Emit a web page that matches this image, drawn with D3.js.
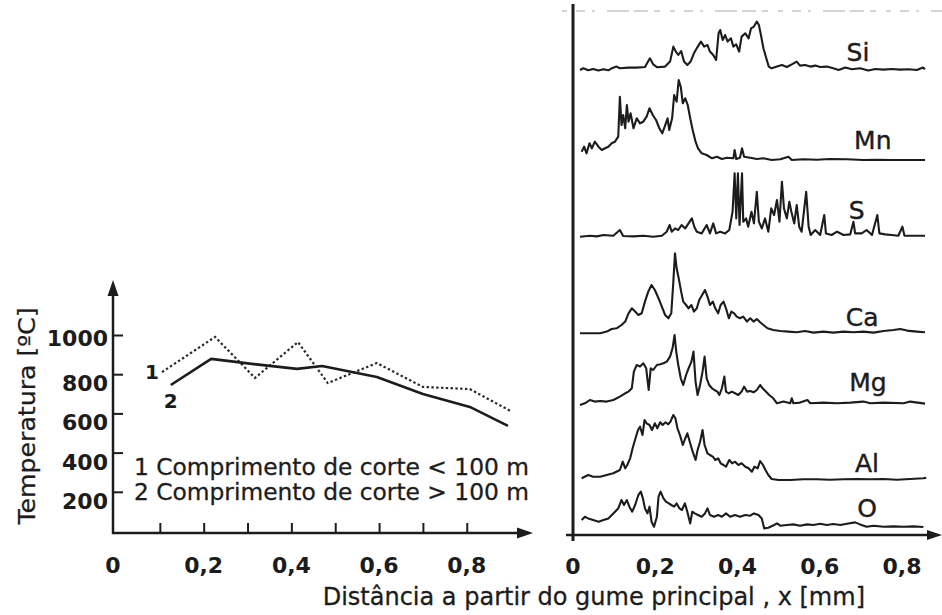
<!DOCTYPE html>
<html><head><meta charset="utf-8">
<script src="https://cdn.jsdelivr.net/npm/d3@7"></script>
<style>
body{margin:0;background:#fff}
svg{display:block}
text{font-family:"DejaVu Sans",sans-serif;fill:#1c1c1c}
</style>
</head><body>
<svg id="c" width="942" height="615"></svg>
<script>
// ---------- Left chart data (temperature vs distance) ----------
const tempX1 = [0.105, 0.226, 0.317, 0.415, 0.483, 0.595, 0.70, 0.807, 0.90];
const temp1  = [811, 990, 781, 964, 755, 857, 735, 724, 612];
const tempX2 = [0.125, 0.217, 0.32, 0.413, 0.47, 0.595, 0.70, 0.807, 0.894];
const temp2  = [745, 878, 850, 827, 842, 786, 699, 633, 536];
const yTicksLeft = [200, 400, 600, 800, 1000];
const xTickMarksLeft = [0.1, 0.2, 0.3, 0.4, 0.5, 0.6, 0.7, 0.8];
const xTickLabels = [0, 0.2, 0.4, 0.6, 0.8];
const legendTexts = ["1 Comprimento de corte < 100 m", "2 Comprimento de corte > 100 m"];

// ---------- Right chart data (element line scans) ----------
const elements = ["Si", "Mn", "S", "Ca", "Mg", "Al", "O"];
const offsets  = [465.7, 375, 298.3, 201.7, 131.7, 55, 9.3];
const traceSi = [[0.017,-0.7],[0.025,1],[0.037,-1],[0.049,0.3],[0.062,-1.3],[0.074,0],[0.086,-1],[0.094,1],[0.106,2.7],[0.114,1],[0.135,1.7],[0.155,1.7],[0.175,2.3],[0.187,11],[0.195,5],[0.205,2],[0.224,2.7],[0.236,7.7],[0.244,22.7],[0.25,17.7],[0.256,14.3],[0.263,18.3],[0.27,7.7],[0.278,4.3],[0.286,7.7],[0.294,16],[0.302,21.7],[0.311,27.7],[0.319,22.7],[0.327,24.3],[0.333,17.7],[0.341,14.3],[0.348,9.3],[0.354,36],[0.358,39.3],[0.364,29.3],[0.37,34.3],[0.376,27.7],[0.384,31],[0.39,22.7],[0.397,25],[0.404,17.7],[0.41,32.7],[0.419,36],[0.427,31],[0.433,41],[0.44,42.7],[0.447,47.7],[0.452,44.3],[0.457,34.3],[0.463,21],[0.47,11],[0.476,2.7],[0.483,1],[0.496,2.7],[0.508,4.3],[0.52,2.3],[0.532,5],[0.544,7.7],[0.552,3.7],[0.564,4.3],[0.577,2.7],[0.589,3.7],[0.601,2.3],[0.617,2.7],[0.633,1],[0.646,-0.7],[0.662,1.7],[0.678,0],[0.698,1],[0.718,-1.3],[0.735,0.3],[0.755,-0.3],[0.775,0.3],[0.796,-0.3],[0.816,0],[0.836,-0.7],[0.851,1.7],[0.856,0]];
const traceMn = [[0.021,8.3],[0.027,13.3],[0.033,6.7],[0.04,16.7],[0.046,11.7],[0.053,18.3],[0.062,13.3],[0.07,10],[0.078,11.7],[0.086,13.3],[0.094,16.7],[0.102,18.3],[0.11,23.3],[0.114,63.3],[0.118,35],[0.122,45],[0.127,31.7],[0.131,55],[0.135,38.3],[0.14,46.7],[0.147,31.7],[0.155,41.7],[0.163,36.7],[0.171,38.3],[0.179,43.3],[0.186,51.7],[0.194,45],[0.202,40],[0.21,31.7],[0.217,26.7],[0.223,33.3],[0.23,41.7],[0.234,30],[0.241,41.7],[0.246,65],[0.252,58.3],[0.257,80],[0.262,73.3],[0.267,56.7],[0.273,61.7],[0.279,55],[0.285,41.7],[0.291,30],[0.298,18.3],[0.304,11.7],[0.313,6.7],[0.325,5],[0.338,1.7],[0.35,3.3],[0.362,1],[0.374,2.3],[0.39,1.7],[0.393,10],[0.397,1],[0.406,2.3],[0.411,11.7],[0.416,3.3],[0.431,2.3],[0.447,1],[0.463,1.7],[0.483,0],[0.504,0.7],[0.524,3.3],[0.532,0],[0.56,0.7],[0.593,0.3],[0.625,1],[0.666,0.7],[0.706,0],[0.739,0.3],[0.771,0],[0.812,0],[0.856,0]];
const traceS = [[0.017,0],[0.041,1],[0.058,0.3],[0.074,1.7],[0.098,1],[0.114,6.7],[0.122,0.7],[0.147,0.3],[0.171,1],[0.195,0],[0.216,1],[0.228,5],[0.235,11.7],[0.24,5],[0.248,8.3],[0.256,6.7],[0.264,11.7],[0.273,8.3],[0.281,13.3],[0.289,18.3],[0.295,10],[0.301,5],[0.313,3.3],[0.325,11.7],[0.333,3.3],[0.341,13.3],[0.348,3.3],[0.358,5],[0.37,3.3],[0.38,6.7],[0.388,25],[0.393,63.3],[0.397,18.3],[0.401,63.3],[0.405,11.7],[0.411,63.3],[0.414,15],[0.421,18.3],[0.426,10],[0.434,25],[0.44,13.3],[0.447,45],[0.452,15],[0.459,8.3],[0.467,18.3],[0.475,5],[0.482,28.3],[0.489,21.7],[0.496,36.7],[0.502,15],[0.508,55],[0.513,28.3],[0.52,18.3],[0.526,35],[0.531,25],[0.538,13.3],[0.544,31.7],[0.55,10],[0.556,5],[0.567,45],[0.573,10],[0.578,1.7],[0.589,6.7],[0.601,1.7],[0.611,21.7],[0.615,3.3],[0.629,1.7],[0.642,5],[0.658,1.7],[0.674,2.3],[0.682,15],[0.686,3.3],[0.702,3.3],[0.714,6.7],[0.727,1.7],[0.74,21.7],[0.745,3.3],[0.759,2.3],[0.775,1.7],[0.791,1],[0.801,10],[0.806,1],[0.828,1],[0.856,1]];
const traceCa = [[0.017,0],[0.041,0],[0.066,0],[0.082,1.7],[0.094,4.3],[0.106,5],[0.118,8.3],[0.127,11.7],[0.135,20],[0.143,25],[0.151,21.7],[0.159,18.3],[0.167,20],[0.175,31.7],[0.183,41.7],[0.191,48.3],[0.199,43.3],[0.208,35],[0.216,26.7],[0.224,18.3],[0.232,15],[0.239,20],[0.244,51.7],[0.248,80],[0.252,65],[0.257,55],[0.263,41.7],[0.268,31.7],[0.275,28.3],[0.281,25],[0.288,28.3],[0.294,21.7],[0.301,25],[0.307,33.3],[0.314,38.3],[0.321,43.3],[0.327,36.7],[0.333,28.3],[0.34,31.7],[0.346,25],[0.353,20],[0.359,28.3],[0.366,31.7],[0.372,25],[0.379,15],[0.385,21.7],[0.392,20],[0.398,16.7],[0.406,15],[0.414,16.7],[0.423,11.7],[0.431,15],[0.439,11.7],[0.447,14.3],[0.455,11],[0.463,8.3],[0.473,5],[0.487,3.3],[0.504,2.3],[0.524,1.7],[0.544,1],[0.564,2.3],[0.585,0.7],[0.609,1.7],[0.633,0.7],[0.658,1.7],[0.682,1],[0.706,1.7],[0.731,0.7],[0.755,2.3],[0.779,3.3],[0.796,4.3],[0.812,2.7],[0.836,1.7],[0.856,1]];
const traceMg = [[0.017,-1.7],[0.029,0],[0.041,3.3],[0.053,1.7],[0.066,2.3],[0.082,1.7],[0.098,3.3],[0.114,6.7],[0.127,10],[0.135,11.7],[0.143,15],[0.148,31.7],[0.155,38.3],[0.163,36.7],[0.171,40],[0.178,35],[0.184,13.3],[0.189,35],[0.195,33.3],[0.204,38.3],[0.212,39],[0.22,40],[0.228,41.7],[0.236,46.7],[0.242,55],[0.247,68.3],[0.251,51.7],[0.256,38.3],[0.262,25],[0.268,18.3],[0.275,28.3],[0.281,35],[0.288,41.7],[0.293,51.7],[0.298,21.7],[0.303,8.3],[0.309,18.3],[0.315,31.7],[0.32,46.7],[0.325,25],[0.331,18.3],[0.338,15],[0.344,13.3],[0.351,11.7],[0.356,8.3],[0.362,15],[0.368,26.7],[0.372,11.7],[0.379,10],[0.386,11.7],[0.394,10],[0.402,8.3],[0.41,11.7],[0.416,16.7],[0.423,11.7],[0.431,12.3],[0.439,11],[0.447,13.3],[0.455,18.3],[0.461,15],[0.469,11.7],[0.477,8.3],[0.487,5],[0.496,0],[0.512,1.7],[0.528,0],[0.532,5],[0.536,0],[0.552,0.7],[0.57,3.3],[0.577,0],[0.609,0.7],[0.642,0],[0.674,0.7],[0.706,1.7],[0.723,0],[0.755,0.7],[0.804,0],[0.82,1.7],[0.856,-0.3]];
const traceAl = [[0.021,1.7],[0.037,5],[0.049,3.3],[0.066,3.3],[0.082,5],[0.098,6.7],[0.114,10],[0.121,18.3],[0.127,11.7],[0.132,15],[0.139,21.7],[0.145,31.7],[0.152,41.7],[0.158,50],[0.163,53.3],[0.169,45],[0.174,60],[0.179,56.7],[0.186,55],[0.192,50],[0.199,56.7],[0.205,51.7],[0.212,57.7],[0.218,55],[0.225,57.7],[0.231,55.7],[0.237,58.3],[0.244,65],[0.249,61.7],[0.254,51.7],[0.26,45],[0.267,35],[0.273,41.7],[0.278,46.7],[0.285,36.7],[0.291,28.3],[0.298,20],[0.303,30],[0.309,38.3],[0.315,50],[0.32,35],[0.327,26.7],[0.333,25],[0.34,23.3],[0.346,20],[0.353,21.7],[0.359,16.7],[0.366,15],[0.372,13.3],[0.38,20],[0.387,16.7],[0.394,18.3],[0.402,15],[0.41,16.7],[0.419,13.3],[0.427,11.7],[0.435,8.3],[0.441,13.3],[0.449,11.7],[0.455,19],[0.462,15],[0.468,10],[0.475,5],[0.483,1],[0.5,0],[0.528,0],[0.56,0.7],[0.593,0.7],[0.625,0.3],[0.658,0.7],[0.69,1],[0.723,0.7],[0.755,1],[0.788,0.3],[0.82,1],[0.852,1.7],[0.859,2.3]];
const traceO = [[0.021,5.7],[0.029,9],[0.037,7.3],[0.049,5.7],[0.062,4],[0.074,5.7],[0.086,7.3],[0.098,12.3],[0.11,17.3],[0.118,25.7],[0.124,20.7],[0.131,25.7],[0.137,19],[0.144,14],[0.151,20.7],[0.159,30.7],[0.165,34],[0.17,27.3],[0.175,17.3],[0.181,12.3],[0.186,19],[0.191,4],[0.197,-1],[0.204,9],[0.208,29],[0.213,34],[0.22,27.3],[0.226,24],[0.233,22.3],[0.239,20.7],[0.246,19],[0.252,22.3],[0.259,17.3],[0.265,15.7],[0.272,22.3],[0.278,14],[0.285,2.3],[0.29,14],[0.296,12.3],[0.304,10.7],[0.313,9],[0.321,12.3],[0.327,17.3],[0.333,10.7],[0.343,9],[0.353,10.7],[0.362,9],[0.372,12.3],[0.382,9],[0.394,10.7],[0.406,9],[0.419,10.7],[0.431,10],[0.44,12.3],[0.451,10.7],[0.459,7.3],[0.465,-2.7],[0.475,-2],[0.489,0.7],[0.496,2.3],[0.504,0],[0.52,0.7],[0.536,1.3],[0.552,0],[0.569,1.3],[0.585,0.7],[0.601,2],[0.617,0.7],[0.633,1.7],[0.65,0.7],[0.666,2],[0.686,3.3],[0.698,1.3],[0.714,-1],[0.731,0],[0.755,-1],[0.779,-0.7],[0.804,-1],[0.828,-0.7],[0.852,-1.3]];
const traces = [traceSi, traceMn, traceS, traceCa, traceMg, traceAl, traceO];

// ---------- drawing ----------
const svg = d3.select("#c");
const ink = "#1c1c1c";
const fmt = d => d === 0 ? "0" : d3.format(".1f")(d).replace(".", ",");

// Left scales
const xL = d3.scaleLinear().domain([0, 0.9]).range([116, 510.6]);
const yL = d3.scaleLinear().domain([0, 1000]).range([531, 335]);
const axL = 113, ayL = 533;

// Left axes lines with arrows
svg.append("line").attr("x1", axL).attr("y1", ayL + 1).attr("x2", axL).attr("y2", 292)
  .attr("stroke", ink).attr("stroke-width", 2.5);
svg.append("path").attr("d", `M${axL},280 L${axL-5.5},296 L${axL+5.5},296 Z`).attr("fill", ink);
svg.append("line").attr("x1", axL - 1).attr("y1", ayL).attr("x2", 520).attr("y2", ayL)
  .attr("stroke", ink).attr("stroke-width", 2.5);
svg.append("path").attr("d", `M533,${ayL} L517,${ayL-5.5} L517,${ayL+5.5} Z`).attr("fill", ink);

// Y ticks (pointing right) and labels
const gYL = svg.append("g").attr("transform", `translate(${axL},0)`)
  .call(d3.axisRight(yL).tickValues(yTicksLeft).tickSize(10).tickFormat(""));
gYL.select(".domain").remove();
gYL.selectAll(".tick line").attr("stroke", ink).attr("stroke-width", 2);
svg.append("g").selectAll("text").data(yTicksLeft).join("text")
  .attr("x", 108).attr("y", d => yL(d) + (d === 1000 ? 5 : 11))
  .attr("text-anchor", "end").attr("dominant-baseline", "middle")
  .attr("font-size", 22).attr("font-weight", "bold").text(d => d);

// X ticks (pointing up) and labels
const gXL = svg.append("g").attr("transform", `translate(0,${ayL})`)
  .call(d3.axisTop(xL).tickValues(xTickMarksLeft).tickSize(10).tickFormat(""));
gXL.select(".domain").remove();
gXL.selectAll(".tick line").attr("stroke", ink).attr("stroke-width", 2);
svg.append("g").selectAll("text").data(xTickLabels).join("text")
  .attr("x", d => d === 0 ? axL : xL(d)).attr("y", 573)
  .attr("text-anchor", "middle").attr("font-size", 22).attr("font-weight", "bold").text(fmt);

// Lines
const lineL = d3.line().x(d => xL(d[0])).y(d => yL(d[1]));
svg.append("path").datum(d3.zip(tempX1, temp1)).attr("d", lineL)
  .attr("fill", "none").attr("stroke", "#2a2a2a").attr("stroke-width", 2.2).attr("stroke-dasharray", "2.4,2.4");
svg.append("path").datum(d3.zip(tempX2, temp2)).attr("d", lineL)
  .attr("fill", "none").attr("stroke", ink).attr("stroke-width", 2.6).attr("stroke-linejoin", "round");
svg.append("text").attr("x", xL(tempX1[0]) - 10).attr("y", yL(temp1[0]) + 1).attr("text-anchor", "middle")
  .attr("dominant-baseline", "middle").attr("font-size", 20).attr("font-weight", "bold").text("1");
svg.append("text").attr("x", xL(tempX2[0])).attr("y", yL(temp2[0]) + 18).attr("text-anchor", "middle")
  .attr("dominant-baseline", "middle").attr("font-size", 20).attr("font-weight", "bold").text("2");

// Legend text
svg.append("g").selectAll("text").data(legendTexts).join("text")
  .attr("x", 134).attr("y", (d, i) => 475 + i * 25)
  .attr("font-size", 23).attr("textLength", 395).attr("lengthAdjust", "spacingAndGlyphs")
  .attr("stroke", "#1c1c1c").attr("stroke-width", 0.3).text(d => d);

// Y title
svg.append("text").attr("transform", "translate(35,416) rotate(-90)")
  .attr("text-anchor", "middle").attr("font-size", 23).attr("textLength", 217)
  .attr("lengthAdjust", "spacingAndGlyphs").attr("stroke", "#1c1c1c").attr("stroke-width", 0.3)
  .text("Temperatura [ºC]");

// Right scales
const xR = d3.scaleLinear().domain([0, 0.8]).range([573, 902]);
const yR = d3.scaleLinear().domain([0, 530]).range([535, 5]);

// faint scan artifact at top
svg.append("line").attr("x1", 562).attr("y1", 11).attr("x2", 942).attr("y2", 11)
  .attr("stroke", "#c8c8c8").attr("stroke-width", 1.5).attr("stroke-dasharray", "5,9,9,7,3,12,22,5,14,6,6,10");

// Right axes
svg.append("line").attr("x1", 573).attr("y1", 4).attr("x2", 573).attr("y2", 541)
  .attr("stroke", ink).attr("stroke-width", 3);
svg.append("line").attr("x1", 566).attr("y1", 535).attr("x2", 930).attr("y2", 535)
  .attr("stroke", ink).attr("stroke-width", 2.5);
svg.append("path").attr("d", "M942,535 L927,530 L927,540 Z").attr("fill", ink);
svg.append("g").selectAll("text").data(xTickLabels).join("text")
  .attr("x", d => xR(d)).attr("y", 574).attr("text-anchor", "middle")
  .attr("font-size", 22).attr("font-weight", "bold").text(fmt);

// Traces
elements.forEach((el, i) => {
  const off = offsets[i];
  const ln = d3.line().x(d => xR(d[0])).y(d => yR(off + d[1]));
  svg.append("path").datum(traces[i]).attr("d", ln)
    .attr("fill", "none").attr("stroke", ink).attr("stroke-width", 2.1).attr("stroke-linejoin", "round");
});

// Element labels
const labelPos = {Si:[0.693,17.3], Mn:[0.729,20], S:[0.69,26.7], Ca:[0.703,16.3], Mg:[0.717,21.3], Al:[0.715,17], O:[0.715,17.7]};
elements.forEach((el, i) => {
  svg.append("text").attr("x", xR(labelPos[el][0])).attr("y", yR(offsets[i] + labelPos[el][1]))
    .attr("text-anchor", "middle").attr("dominant-baseline", "central")
    .attr("font-size", 25).attr("stroke", "#1c1c1c").attr("stroke-width", 0.4).text(el);
});

// X title
svg.append("text").attr("x", 865).attr("y", 605).attr("text-anchor", "end")
  .attr("font-size", 24).attr("stroke", "#1c1c1c").attr("stroke-width", 0.3)
  .text("Distância a partir do gume principal , x [mm]");
</script>
</body></html>
